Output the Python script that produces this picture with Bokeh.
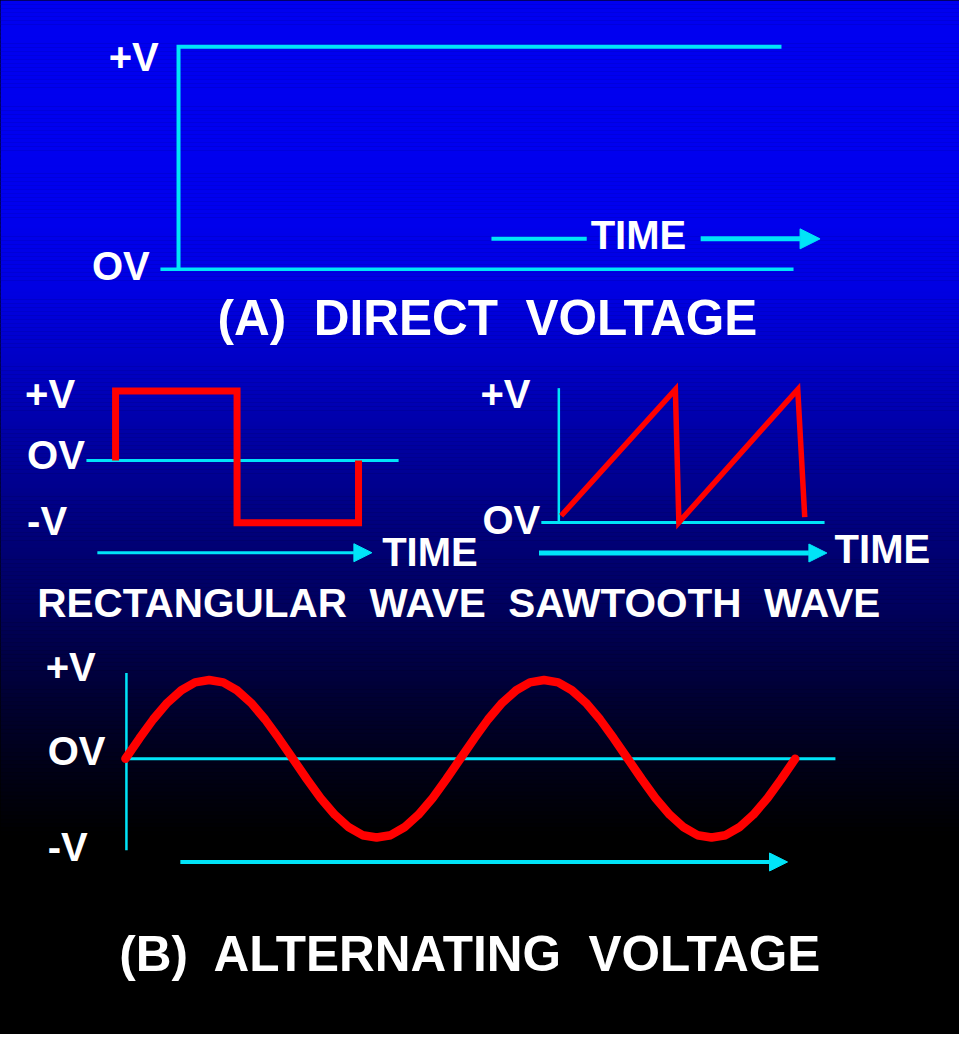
from bokeh.plotting import figure
from bokeh.models import Range1d, ColumnDataSource, Arrow, NormalHead
from bokeh.core.properties import value
from bokeh.embed import file_html
from bokeh.resources import INLINE

# ---------------- data ----------------
# (A) Direct voltage: time in arbitrary units, voltage in units of V
dc_time = [0.0, 0.0, 10.0]
dc_volt = [0.0, 1.0, 1.0]
dc_axis_time = [-0.3, 10.2]
dc_time_line = [5.19, 6.77]
dc_time_arrow = [8.66, 10.64]
dc_time_level = 0.137

# Rectangular wave
rect_time = [0.0, 0.0, 1.0, 1.0, 2.0, 2.0]
rect_volt = [0.0, 1.0, 1.0, -0.9, -0.9, 0.0]
rect_axis_time = [-0.24, 2.33]
rect_arrow_time = [-0.15, 2.11]
rect_arrow_level = -1.33

# Sawtooth wave
saw_time = [0.0, 0.98, 1.01, 2.03, 2.09]
saw_volt = [0.05, 1.0, 0.0, 1.0, 0.04]
saw_vaxis_volt = [0.0, 1.01]
saw_vaxis_time = -0.02
saw_axis_time = [-0.17, 2.26]
saw_arrow_time = [-0.19, 2.28]
saw_arrow_level = -0.23

# (B) Alternating voltage: time in cycles
sine_time = [0.0, 0.042, 0.083, 0.125, 0.167, 0.208, 0.25, 0.292, 0.333, 0.375, 0.417, 0.458,
             0.5, 0.542, 0.583, 0.625, 0.667, 0.708, 0.75, 0.792, 0.833, 0.875, 0.917, 0.958,
             1.0, 1.042, 1.083, 1.125, 1.167, 1.208, 1.25, 1.292, 1.333, 1.375, 1.417, 1.458,
             1.5, 1.542, 1.583, 1.625, 1.667, 1.708, 1.75, 1.792, 1.833, 1.875, 1.917, 1.958, 2.0]
sine_volt = [0.0, 0.26, 0.5, 0.71, 0.87, 0.97, 1.0, 0.97, 0.87, 0.71, 0.5, 0.26,
             0.0, -0.26, -0.5, -0.71, -0.87, -0.97, -1.0, -0.97, -0.87, -0.71, -0.5, -0.26,
             0.0, 0.26, 0.5, 0.71, 0.87, 0.97, 1.0, 0.97, 0.87, 0.71, 0.5, 0.26,
             0.0, -0.26, -0.5, -0.71, -0.87, -0.97, -1.0, -0.97, -0.87, -0.71, -0.5, -0.26, 0.0]
sine_vaxis_volt = [1.09, -1.16]
sine_vaxis_time = 0.003
sine_axis_time = [0.003, 2.12]
sine_arrow_time = [0.164, 1.977]
sine_arrow_level = -1.31

# texts (non-breaking spaces keep the wide word gaps)
NB = "\u00a0"
axis_labels = ["+V", "OV", "-V"]
time_label = "TIME"
title_a = "(A)" + NB + " DIRECT" + NB + " VOLTAGE"
subtitle = "RECTANGULAR" + NB + " WAVE" + NB + " SAWTOOTH" + NB + " WAVE"
title_b = "(B)" + NB + " ALTERNATING" + NB + " VOLTAGE"

# ---------------- styling / layout ----------------
CYAN = "#00E4F8"
RED = "#FF0000"
FONT = value("Liberation Sans")
W, H = 959, 1034
RW, RH = 975, 1050       # reference picture coordinate system

p = figure(width=W, height=H, output_backend="svg", toolbar_location=None,
           x_range=Range1d(0, RW), y_range=Range1d(RH, 0),
           x_axis_location=None, y_axis_location=None, min_border=0)
p.grid.visible = False
p.background_fill_color = "black"
p.border_fill_color = "black"
p.outline_line_color = "black"
p.outline_line_width = 5

# background gradient (blue -> black)
stops = [(0, 240), (215, 238), (300, 225), (380, 192), (470, 152), (540, 122), (610, 96),
         (660, 72), (710, 50), (760, 30), (830, 6), (850, 0), (1050, 0)]


def blue_at(y):
    for (ya, ba), (yb, bb) in zip(stops[:-1], stops[1:]):
        if ya <= y <= yb:
            return ba + (bb - ba) * (y - ya) / (yb - ya)
    return 0


tops, bottoms, cols = [], [], []
step = 4
y = 0
while y < RH:
    b = int(round(blue_at(y + step / 2)))
    tops.append(y)
    bottoms.append(y + step)
    cols.append("#%02x%02x%02x" % (0, 0, b))
    y += step
p.quad(left=0, right=RW, top="t", bottom="b", fill_color="c", line_color="c", line_width=0.5,
       source=ColumnDataSource(dict(t=tops, b=bottoms, c=cols)))


def add_panel(name, ta, pxa, tb, pxb, va, pya, vb, pyb):
    kx = (pxb - pxa) / (tb - ta)
    p.extra_x_ranges[name] = Range1d(ta - pxa / kx, ta + (RW - pxa) / kx)
    ky = (pya - pyb) / (vb - va)
    p.extra_y_ranges[name] = Range1d(va - (RH - pya) / ky, va + pya / ky)


add_panel("dc", 0, 181, 10, 794, 0, 273, 1, 47)
add_panel("rect", 0, 117, 2, 364, 0, 467, 1, 396.5)
add_panel("saw", 0, 570, 1, 688.5, 0, 530, 1, 395)
add_panel("sine", 0, 127, 2, 808, 0, 770, 1, 690)


def arrow(name, t0, t1, v, width, size):
    p.add_layout(Arrow(x_start=t0, x_end=t1, y_start=v, y_end=v,
                       x_range_name=name, y_range_name=name,
                       line_color=CYAN, line_width=width,
                       end=NormalHead(size=size, fill_color=CYAN, line_color=CYAN, line_width=1)))


# ---- (A) direct voltage
p.line(dc_axis_time, [0, 0], x_range_name="dc", y_range_name="dc", line_color=CYAN, line_width=3.5)
p.line(dc_time, dc_volt, x_range_name="dc", y_range_name="dc", line_color=CYAN, line_width=4,
       line_join="miter")
p.line(dc_time_line, [dc_time_level] * 2, x_range_name="dc", y_range_name="dc",
       line_color=CYAN, line_width=4)
arrow("dc", dc_time_arrow[0], dc_time_arrow[1], dc_time_level, 5, 20)

# ---- rectangular wave
p.line(rect_axis_time, [0, 0], x_range_name="rect", y_range_name="rect", line_color=CYAN, line_width=3)
p.line(rect_time, rect_volt, x_range_name="rect", y_range_name="rect", line_color=RED, line_width=7,
       line_join="miter")
arrow("rect", rect_arrow_time[0], rect_arrow_time[1], rect_arrow_level, 3, 18)

# ---- sawtooth wave
p.line([saw_vaxis_time] * 2, saw_vaxis_volt, x_range_name="saw", y_range_name="saw",
       line_color=CYAN, line_width=2.5)
p.line(saw_axis_time, [0, 0], x_range_name="saw", y_range_name="saw", line_color=CYAN, line_width=3)
p.line(saw_time, saw_volt, x_range_name="saw", y_range_name="saw", line_color=RED, line_width=5.5,
       line_join="miter")
arrow("saw", saw_arrow_time[0], saw_arrow_time[1], saw_arrow_level, 5, 18)

# ---- sine
p.line([sine_vaxis_time] * 2, sine_vaxis_volt, x_range_name="sine", y_range_name="sine",
       line_color=CYAN, line_width=2.5)
p.line(sine_axis_time, [0, 0], x_range_name="sine", y_range_name="sine", line_color=CYAN, line_width=3)
p.line(sine_time, sine_volt, x_range_name="sine", y_range_name="sine", line_color=RED, line_width=8.5,
       line_join="round", line_cap="round")
arrow("sine", sine_arrow_time[0], sine_arrow_time[1], sine_arrow_level, 4, 18)

# ---- texts (layout positions in reference-pixel space, caps centre)
lbl_text = [axis_labels[0], axis_labels[1], time_label,
            axis_labels[0], axis_labels[1], axis_labels[2], time_label,
            axis_labels[0], axis_labels[1], time_label,
            axis_labels[0], axis_labels[1], axis_labels[2]]
lbl_x = [110, 93, 600, 25, 27, 27, 388, 488, 490, 848, 46, 48, 48]
lbl_y = [57.5, 270, 238, 400, 461.5, 528.5, 560, 400, 528, 557, 677, 762, 860]
p.text(x=lbl_x, y=lbl_y, text=lbl_text, text_font=FONT, text_font_size="40px",
       text_font_style="bold", text_color="white", text_align="left", text_baseline="middle")

src_t = ColumnDataSource(dict(x=[495, 466, 478], y=[321.5, 612, 967.5],
                              t=[title_a, subtitle, title_b],
                              s=["49.5px", "40.5px", "49.5px"]))
p.text(x="x", y="y", text="t", text_font_size="s", source=src_t, text_font=FONT,
       text_font_style="bold", text_color="white", text_align="center", text_baseline="middle")

open("out.html", "w").write(file_html(p, INLINE))
